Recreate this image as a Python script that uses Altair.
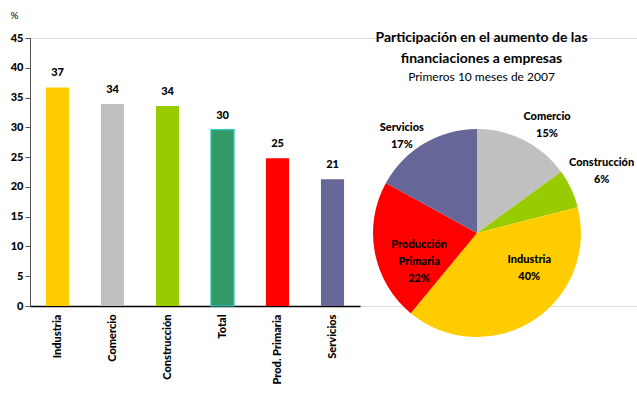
import altair as alt
import pandas as pd

# Bar chart data
bar_cats = ["Industria", "Comercio", "Construcción", "Total", "Prod. Primaria", "Servicios"]
bar_vals = [36.7, 33.9, 33.6, 29.6, 24.8, 21.3]
bar_colors = ["#FFCC00", "#C0C0C0", "#99CC00", "#339966", "#FF0000", "#666699"]

# Pie data (clockwise from 12 o'clock)
pie_cats = ["Comercio", "Construcción", "Industria", "Producción Primaria", "Servicios"]
pie_names = ["Comercio", "Construcción", "Industria", "Producción\nPrimaria", "Servicios"]
pie_vals = [15, 6, 40, 22, 17]
pie_colors = ["#C0C0C0", "#99CC00", "#FFCC00", "#FF0000", "#666699"]

FONT = "Lato"
HEAVY = 900

bars_df = pd.DataFrame({"cat": bar_cats, "value": bar_vals})
pie_df = pd.DataFrame({
    "cat": pie_cats,
    "v": pie_vals,
    "idx": list(range(len(pie_cats))),
    "label": [f"{n}\n{v}%" for n, v in zip(pie_names, pie_vals)],
})

x_enc = alt.X("cat:N", sort=bar_cats,
              scale=alt.Scale(range=[0, 330], paddingInner=0.58, paddingOuter=0.29),
              axis=alt.Axis(title=None, labelAngle=-90, labelFont=FONT, labelFontWeight=HEAVY,
                            labelFontSize=11, labelColor="black", ticks=False, labelPadding=8,
                            domainColor="black", domainWidth=1.5, labelOverlap=False))
y_enc = alt.Y("value:Q", scale=alt.Scale(domain=[0, 45], nice=False),
              axis=alt.Axis(values=list(range(0, 50, 5)), grid=False, title="%", titleAngle=0,
                            titleX=-16, titleY=-18, titleFont=FONT, titleFontWeight="normal",
                            titleFontSize=10, titleColor="black", labelOverlap=False,
                            labelFont=FONT, labelFontWeight=HEAVY, labelFontSize=11,
                            labelColor="black", tickSize=5, tickColor="#555", domainColor="#555",
                            labelPadding=2))

bar_base = alt.Chart(bars_df).encode(x=x_enc, y=y_enc)

bars = bar_base.mark_bar().encode(
    color=alt.Color("cat:N", scale=alt.Scale(domain=bar_cats, range=bar_colors), legend=None),
    stroke=alt.condition(alt.datum.cat == "Total", alt.value("#33CCCC"), alt.value("transparent")),
    strokeWidth=alt.value(1.2),
)

bar_text = bar_base.mark_text(dy=-14, font=FONT, fontWeight=HEAVY, fontSize=11,
                              color="black").encode(
    text=alt.Text("value:Q", format=".0f"),
)

cx, cy = 447, 195
pie_base = alt.Chart(pie_df).encode(
    theta=alt.Theta("v:Q", stack=True),
    order=alt.Order("idx:Q"),
)
arcs = pie_base.mark_arc(outerRadius=104).encode(
    x=alt.value(cx), y=alt.value(cy),
    color=alt.Color("cat:N", scale=alt.Scale(domain=pie_cats, range=pie_colors), legend=None),
)

# label placement per slice: (radius, dx, dy)
label_place = {
    "Comercio": (130, 11, 0),
    "Construcción": (130, 7, -15),
    "Industria": (62, 19, -25),
    "Producción Primaria": (62, 3, 0),
    "Servicios": (130, -9, 7),
}
text_layers = []
for cat, (r, ddx, ddy) in label_place.items():
    text_layers.append(
        pie_base.mark_text(radius=r, dx=ddx, dy=ddy, font=FONT, fontWeight=HEAVY, fontSize=11,
                           lineBreak="\n", lineHeight=17, color="black").encode(
            x=alt.value(cx), y=alt.value(cy), text="label:N",
            opacity=alt.condition(alt.datum.cat == cat, alt.value(1), alt.value(0)),
            detail="cat:N",
        )
    )

chart = alt.layer(bars, bar_text, arcs, *text_layers).resolve_scale(
    color="independent"
).properties(
    width=607, height=268,
    autosize=alt.AutoSizeParams(type="none"),
    padding={"left": 30, "top": 38, "right": 0, "bottom": 88},
    title=alt.TitleParams(
        text=["Participación en el aumento de las", "financiaciones a empresas"],
        subtitle="Primeros 10 meses de 2007",
        anchor="middle", frame="group", dx=148, dy=77,
        font=FONT, fontSize=14, fontWeight="bold", lineHeight=21, color="black",
        subtitleFont=FONT, subtitleFontSize=12, subtitleFontWeight="normal",
        subtitleColor="black", subtitlePadding=6,
    ),
).configure_view(stroke="transparent", strokeWidth=0).configure(background="white")

chart.save("out.html", embed_options={"renderer": "svg", "actions": False})
